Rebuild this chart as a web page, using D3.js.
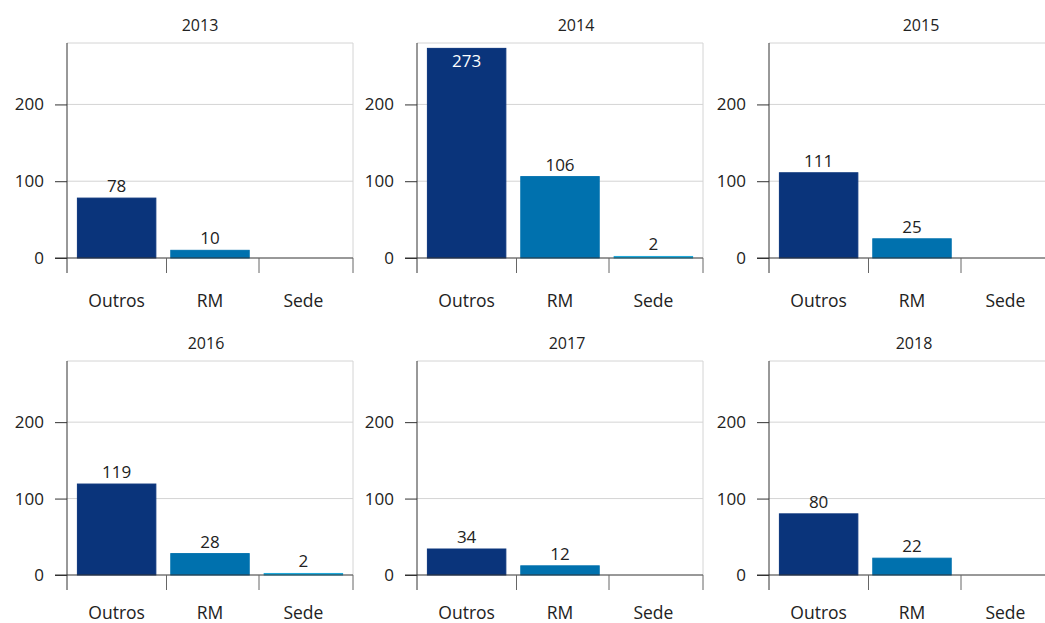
<!DOCTYPE html>
<html>
<head>
<meta charset="utf-8">
<script src="https://cdn.jsdelivr.net/npm/d3@7"></script>
<style>
  html, body { margin: 0; padding: 0; background: #fff; }
  svg { display: block; font-family: "Open Sans", "Noto Sans", sans-serif; }
</style>
</head>
<body>
<svg id="chart" width="1045" height="623"></svg>
<script>
// Data: projects per location, one small multiple per year
const years = ["2013", "2014", "2015", "2016", "2017", "2018"];
const categories = ["Outros", "RM", "Sede"];
const outros = [78, 273, 111, 119, 34, 80];
const rm = [10, 106, 25, 28, 12, 22];
const sede = [null, 2, null, 2, null, null];
const yTicks = [0, 100, 200];

const colors = { Outros: "#0a347b", RM: "#0071ae", Sede: "#1ca9dc" };

// Grid layout of the six panels
const colAxisX = [67, 417, 769];
const rowTop = [43, 361];
const rowZero = [258, 575];
const rowLabelOffset = [49, 44];
const plotW = 286;
const titleX = [200, 576, 921, 206, 567, 914];

const svg = d3.select("#chart");

years.forEach((year, i) => {
  const col = i % 3, row = Math.floor(i / 3);
  const x0 = colAxisX[col];
  const top = rowTop[row], zero = rowZero[row];

  const values = { Outros: outros[i], RM: rm[i], Sede: sede[i] };

  // Bars
  const x = d3.scaleBand()
    .domain(categories)
    .range([x0 + 2, x0 + 284])
    .paddingInner(0.16)
    .paddingOuter(0.09);

  // Category separators along the baseline
  const xSep = d3.scaleBand()
    .domain(categories)
    .range([x0 + 7, x0 + 284.5]);

  const y = d3.scaleLinear()
    .domain([0, 280])
    .range([zero, top]);

  const g = svg.append("g");

  // Horizontal gridlines and frame
  g.selectAll("line.grid")
    .data(yTicks.filter(t => t > 0).concat([280]))
    .join("line")
    .attr("class", "grid")
    .attr("x1", x0).attr("x2", x0 + plotW)
    .attr("y1", d => y(d)).attr("y2", d => y(d))
    .attr("stroke", "#d4d4d4").attr("stroke-width", 1);

  g.append("line")
    .attr("x1", x0 + plotW).attr("x2", x0 + plotW)
    .attr("y1", top).attr("y2", zero)
    .attr("stroke", "#d4d4d4");

  // Y axis
  const yAxis = g.append("g")
    .attr("transform", `translate(${x0},0)`)
    .call(d3.axisLeft(y).tickValues(yTicks).tickSize(12).tickPadding(11).tickSizeOuter(0));
  yAxis.select(".domain").attr("stroke", "#333").attr("d", `M0,${top}V${zero}`);
  yAxis.selectAll(".tick line").attr("stroke", "#333");
  yAxis.selectAll(".tick text")
    .attr("font-size", 17).attr("fill", "#222")
    .style("font-family", "'Open Sans', sans-serif");

  const cats = categories.filter(c => values[c] != null);
  g.selectAll("rect.bar")
    .data(cats)
    .join("rect")
    .attr("class", "bar")
    .attr("x", c => x(c))
    .attr("width", x.bandwidth())
    .attr("y", c => y(values[c]))
    .attr("height", c => y(0) - y(values[c]))
    .attr("fill", c => colors[c])
    .attr("stroke", c => colors[c])
    .attr("stroke-width", 1);

  // Value labels (inside the bar when it reaches the top of the panel)
  const inside = c => y(values[c]) - 22 < top;
  g.selectAll("text.val")
    .data(cats)
    .join("text")
    .attr("class", "val")
    .attr("x", c => x(c) + x.bandwidth() / 2)
    .attr("y", c => inside(c) ? y(values[c]) + 19 : y(values[c]) - 6)
    .attr("text-anchor", "middle")
    .attr("font-size", 17)
    .attr("fill", c => inside(c) ? "#fff" : "#222")
    .text(c => values[c]);

  // X axis baseline
  g.append("line")
    .attr("x1", x0 - 12).attr("x2", x0 + plotW)
    .attr("y1", zero).attr("y2", zero)
    .attr("stroke", "#333");

  const seps = [x0]
    .concat(categories.slice(0, -1).map(c => xSep(c) + xSep.step()))
    .concat([x0 + plotW]);
  g.selectAll("line.sep")
    .data(seps)
    .join("line")
    .attr("class", "sep")
    .attr("x1", d => d).attr("x2", d => d)
    .attr("y1", zero).attr("y2", zero + 15)
    .attr("stroke", (d, k) => (k === 0 ? "#333" : "#666"));

  // Category labels
  g.selectAll("text.cat")
    .data(categories)
    .join("text")
    .attr("class", "cat")
    .attr("x", c => x(c) + x.bandwidth() / 2)
    .attr("y", zero + rowLabelOffset[row])
    .attr("text-anchor", "middle")
    .attr("font-size", 17.5)
    .attr("fill", "#222")
    .text(c => c);

  // Panel title
  g.append("text")
    .attr("x", titleX[i])
    .attr("y", top - 12)
    .attr("text-anchor", "middle")
    .attr("font-size", 16)
    .attr("fill", "#222")
    .text(year);
});
</script>
</body>
</html>
